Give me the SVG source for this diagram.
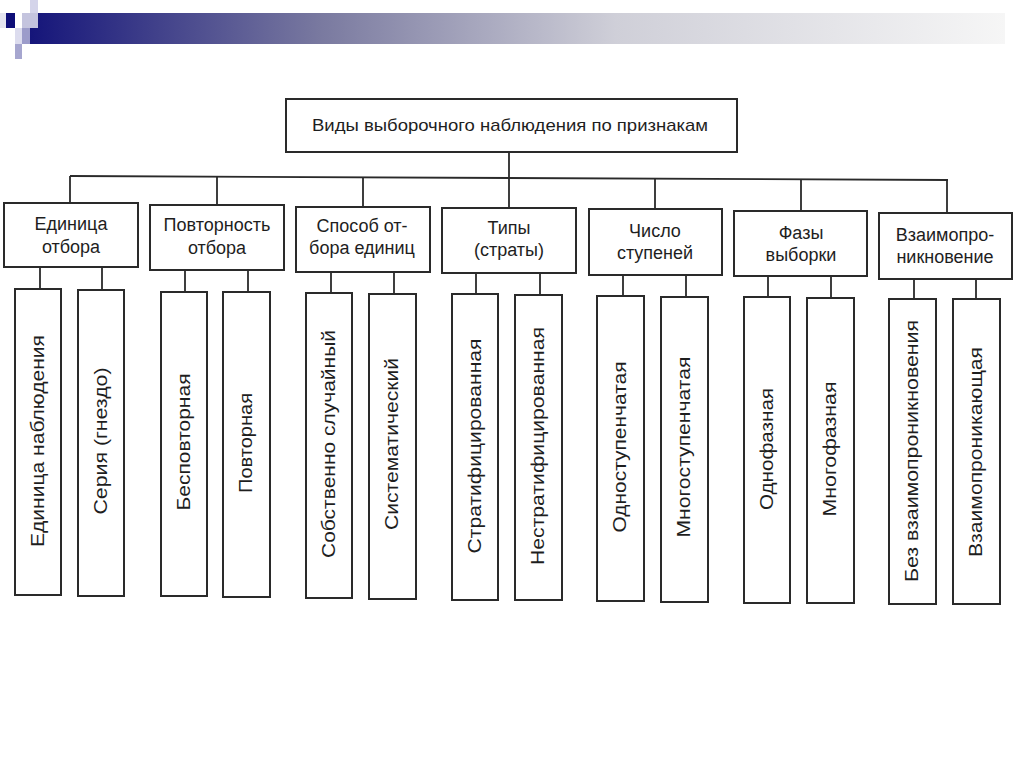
<svg xmlns="http://www.w3.org/2000/svg" width="1024" height="767" viewBox="0 0 1024 767">
<defs>
<linearGradient id="bar" x1="0" y1="0" x2="1" y2="0">
<stop offset="0" stop-color="#15157a"/>
<stop offset="0.3" stop-color="#7a7aa0"/>
<stop offset="0.6" stop-color="#cfcfd8"/>
<stop offset="1" stop-color="#f6f6f6"/>
</linearGradient>
</defs>
<style>
.box{fill:#fff;stroke:#2a2a2a;stroke-width:2}
.ln{stroke:#2a2a2a;stroke-width:1.8;fill:none}
.t{font-family:"Liberation Sans",Arial,sans-serif;fill:#1e1e1e;text-anchor:middle}
.c{font-size:18px}
.v{font-size:19px}
</style>
<rect width="1024" height="767" fill="#fff"/>
<g id="header">
<rect x="30" y="13" width="975" height="31" fill="url(#bar)"/>
<rect x="0" y="13" width="6" height="15" fill="#e4e4f0"/>
<rect x="6" y="13" width="9" height="15" fill="#0e0e78"/>
<rect x="22" y="13" width="16" height="15" fill="#c4c4de"/>
<rect x="30" y="0" width="8" height="13" fill="#d4d4ea"/>
<rect x="15" y="28" width="7" height="16" fill="#dcdcee"/>
<rect x="22" y="28" width="8" height="16" fill="#9c9cca"/>
<rect x="15" y="44" width="7" height="15" fill="#a6a6cf"/>
</g>
<g id="connectors">
<line class="ln" x1="509" y1="152" x2="509" y2="209"/>
<line class="ln" x1="70" y1="176" x2="948" y2="180"/>
<line class="ln" x1="70" y1="176" x2="70" y2="203"/>
<line class="ln" x1="217" y1="177" x2="217" y2="205"/>
<line class="ln" x1="363" y1="177" x2="363" y2="207"/>
<line class="ln" x1="655" y1="179" x2="655" y2="209"/>
<line class="ln" x1="801" y1="179" x2="801" y2="211"/>
<line class="ln" x1="947" y1="180" x2="947" y2="213"/>
<line class="ln" x1="40" y1="267" x2="40" y2="289"/>
<line class="ln" x1="102" y1="267" x2="102" y2="290"/>
<line class="ln" x1="185" y1="270" x2="185" y2="292"/>
<line class="ln" x1="248" y1="270" x2="248" y2="292"/>
<line class="ln" x1="331" y1="272" x2="331" y2="293"/>
<line class="ln" x1="394" y1="272" x2="394" y2="294"/>
<line class="ln" x1="476" y1="273" x2="476" y2="294"/>
<line class="ln" x1="540" y1="273" x2="540" y2="295"/>
<line class="ln" x1="623" y1="275" x2="623" y2="296"/>
<line class="ln" x1="686" y1="275" x2="686" y2="297"/>
<line class="ln" x1="768" y1="276" x2="768" y2="297"/>
<line class="ln" x1="831" y1="276" x2="831" y2="298"/>
<line class="ln" x1="914" y1="279" x2="914" y2="299"/>
<line class="ln" x1="976" y1="279" x2="976" y2="299"/>
</g>
<g id="root">
<rect class="box" x="286" y="99" width="451" height="53"/>
<text class="t" x="510" y="131" font-size="17" textLength="396" lengthAdjust="spacingAndGlyphs">Виды выборочного наблюдения по признакам</text>
</g>
<g id="cat1"><rect class="box" x="4" y="203" width="134" height="64"/>
<text class="t c" x="71" y="230">Единица</text><text class="t c" x="71" y="253">отбора</text></g>
<g id="cat2"><rect class="box" x="150" y="205" width="134" height="65"/>
<text class="t c" x="217" y="231">Повторность</text><text class="t c" x="217" y="254">отбора</text></g>
<g id="cat3"><rect class="box" x="296" y="207" width="134" height="65"/>
<text class="t c" x="362" y="232">Способ от-</text><text class="t c" x="362" y="254">бора единиц</text></g>
<g id="cat4"><rect class="box" x="442" y="208" width="134" height="65"/>
<text class="t c" x="509" y="234">Типы</text><text class="t c" x="509" y="256">(страты)</text></g>
<g id="cat5"><rect class="box" x="589" y="209" width="133" height="66"/>
<text class="t c" x="655" y="237">Число</text><text class="t c" x="655" y="259">ступеней</text></g>
<g id="cat6"><rect class="box" x="734" y="211" width="133" height="65"/>
<text class="t c" x="801" y="239">Фазы</text><text class="t c" x="801" y="261">выборки</text></g>
<g id="cat7"><rect class="box" x="879" y="213" width="133" height="66"/>
<text class="t c" x="945" y="241">Взаимопро-</text><text class="t c" x="945" y="263">никновение</text></g>
<g id="leaf1"><rect class="box" x="15" y="289" width="46" height="306"/>
<text class="t v" transform="translate(44,441) rotate(-90)" textLength="212" lengthAdjust="spacingAndGlyphs">Единица наблюдения</text></g>
<g id="leaf2"><rect class="box" x="78" y="290" width="46" height="306"/>
<text class="t v" transform="translate(107,441) rotate(-90)" textLength="147" lengthAdjust="spacingAndGlyphs">Серия (гнездо)</text></g>
<g id="leaf3"><rect class="box" x="161" y="292" width="46" height="304"/>
<text class="t v" transform="translate(190,442) rotate(-90)" textLength="137" lengthAdjust="spacingAndGlyphs">Бесповторная</text></g>
<g id="leaf4"><rect class="box" x="223" y="292" width="47" height="305"/>
<text class="t v" transform="translate(252,443) rotate(-90)" textLength="100" lengthAdjust="spacingAndGlyphs">Повторная</text></g>
<g id="leaf5"><rect class="box" x="306" y="293" width="46" height="305"/>
<text class="t v" transform="translate(335,444) rotate(-90)" textLength="228" lengthAdjust="spacingAndGlyphs">Собственно случайный</text></g>
<g id="leaf6"><rect class="box" x="369" y="294" width="47" height="305"/>
<text class="t v" transform="translate(398,444) rotate(-90)" textLength="172" lengthAdjust="spacingAndGlyphs">Систематический</text></g>
<g id="leaf7"><rect class="box" x="452" y="294" width="46" height="306"/>
<text class="t v" transform="translate(481,446) rotate(-90)" textLength="215" lengthAdjust="spacingAndGlyphs">Стратифицированная</text></g>
<g id="leaf8"><rect class="box" x="515" y="295" width="47" height="305"/>
<text class="t v" transform="translate(544,446) rotate(-90)" textLength="238" lengthAdjust="spacingAndGlyphs">Нестратифицированная</text></g>
<g id="leaf9"><rect class="box" x="597" y="296" width="47" height="305"/>
<text class="t v" transform="translate(626,447) rotate(-90)" textLength="171" lengthAdjust="spacingAndGlyphs">Одноступенчатая</text></g>
<g id="leaf10"><rect class="box" x="661" y="297" width="47" height="305"/>
<text class="t v" transform="translate(690,447) rotate(-90)" textLength="181" lengthAdjust="spacingAndGlyphs">Многоступенчатая</text></g>
<g id="leaf11"><rect class="box" x="744" y="297" width="46" height="306"/>
<text class="t v" transform="translate(773,449) rotate(-90)" textLength="122" lengthAdjust="spacingAndGlyphs">Однофазная</text></g>
<g id="leaf12"><rect class="box" x="807" y="298" width="47" height="305"/>
<text class="t v" transform="translate(836,449) rotate(-90)" textLength="135" lengthAdjust="spacingAndGlyphs">Многофазная</text></g>
<g id="leaf13"><rect class="box" x="889" y="299" width="47" height="305"/>
<text class="t v" transform="translate(918,451) rotate(-90)" textLength="262" lengthAdjust="spacingAndGlyphs">Без взаимопроникновения</text></g>
<g id="leaf14"><rect class="box" x="953" y="299" width="47" height="305"/>
<text class="t v" transform="translate(982,452) rotate(-90)" textLength="210" lengthAdjust="spacingAndGlyphs">Взаимопроникающая</text></g>
</svg>
